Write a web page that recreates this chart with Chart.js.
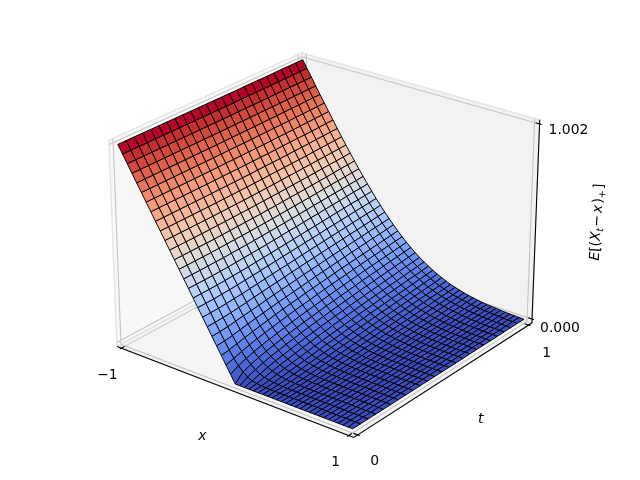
<!DOCTYPE html>
<html>
<head>
<meta charset="utf-8">
<title>E[(X_t - x)+] surface</title>
<style>
html, body { margin: 0; background: #fff; }
canvas { display: block; }
</style>
<script src="https://cdn.jsdelivr.net/npm/chart.js@4"></script>
</head>
<body>
<canvas id="surfaceChart" width="640" height="480"></canvas>
<script>
// grid
const xValues = [-1,-.96,-.92,-.88,-.84,-.8,-.76,-.72,-.68,-.64,-.6,-.56,-.52,-.48,-.44,-.4,-.36,-.32,-.28,-.24,-.2,-.16,-.12,-.08,-.04,0,.04,.08,.12,.16,.2,.24,.28,.32,.36,.4,.44,.48,.52,.56,.6,.64,.68,.72,.76,.8,.84,.88,.92,.96,1];
const tValues = [0,.0417,.0833,.125,.1667,.2083,.25,.2917,.3333,.375,.4167,.4583,.5,.5417,.5833,.625,.6667,.7083,.75,.7917,.8333,.875,.9167,.9583,1];
// one row per t, one value per x
const zRows = [
[1,.96,.92,.88,.84,.8,.76,.72,.68,.64,.6,.56,.52,.48,.44,.4,.36,.32,.28,.24,.2,.16,.12,.08,.04,0,0,0,0,0,0,0,0,0,0,0,0,0,0,0,0,0,0,0,0,0,0,0,0,0,0],
[1,.96,.92,.88,.84,.8,.76,.72,.68,.64,.6,.56,.52,.48,.44,.4,.36,.32,.28,.24,.201,.162,.125,.09,.061,.038,.021,.01,.005,.002,.001,0,0,0,0,0,0,0,0,0,0,0,0,0,0,0,0,0,0,0,0],
[1,.96,.92,.88,.84,.8,.76,.72,.68,.64,.6,.56,.52,.48,.44,.4,.36,.32,.281,.242,.204,.167,.133,.102,.075,.053,.035,.022,.013,.007,.004,.002,.001,0,0,0,0,0,0,0,0,0,0,0,0,0,0,0,0,0,0],
[1,.96,.92,.88,.84,.8,.76,.72,.68,.64,.6,.56,.52,.48,.44,.4,.361,.322,.283,.245,.209,.174,.142,.113,.087,.065,.047,.033,.022,.014,.009,.005,.003,.002,.001,0,0,0,0,0,0,0,0,0,0,0,0,0,0,0,0],
[1,.96,.92,.88,.84,.8,.76,.72,.68,.64,.6,.56,.52,.48,.441,.401,.362,.323,.286,.249,.214,.181,.15,.122,.097,.075,.057,.042,.03,.021,.014,.009,.006,.003,.002,.001,.001,0,0,0,0,0,0,0,0,0,0,0,0,0,0],
[1,.96,.92,.88,.84,.8,.76,.72,.68,.64,.6,.56,.52,.481,.441,.402,.364,.326,.289,.253,.219,.187,.157,.13,.105,.084,.065,.05,.037,.027,.019,.013,.009,.006,.004,.002,.001,.001,0,0,0,0,0,0,0,0,0,0,0,0,0],
[1,.96,.92,.88,.84,.8,.76,.72,.68,.64,.6,.561,.521,.482,.443,.404,.366,.329,.293,.258,.224,.193,.164,.137,.113,.092,.073,.057,.044,.033,.024,.018,.013,.009,.006,.004,.003,.002,.001,.001,0,0,0,0,0,0,0,0,0,0,0],
[1,.96,.92,.88,.84,.8,.76,.72,.68,.64,.601,.561,.522,.483,.444,.406,.368,.332,.296,.262,.23,.199,.171,.144,.12,.099,.08,.064,.051,.039,.03,.022,.016,.012,.008,.006,.004,.003,.002,.001,.001,0,0,0,0,0,0,0,0,0,0],
[1,.96,.92,.88,.84,.8,.76,.72,.681,.641,.601,.562,.523,.484,.445,.408,.371,.335,.3,.267,.235,.205,.177,.151,.127,.106,.087,.071,.057,.045,.035,.027,.02,.015,.011,.008,.005,.004,.003,.002,.001,.001,.001,0,0,0,0,0,0,0,0],
[1,.96,.92,.88,.84,.8,.76,.721,.681,.641,.602,.563,.524,.485,.447,.41,.374,.338,.304,.271,.24,.21,.183,.157,.134,.112,.094,.077,.063,.05,.04,.031,.024,.018,.014,.01,.007,.005,.004,.003,.002,.001,.001,.001,0,0,0,0,0,0,0],
[1,.96,.92,.88,.84,.8,.761,.721,.681,.642,.602,.563,.525,.487,.449,.412,.376,.341,.308,.275,.244,.215,.188,.163,.14,.118,.1,.083,.068,.055,.044,.035,.028,.021,.016,.012,.009,.007,.005,.003,.002,.002,.001,.001,.001,0,0,0,0,0,0],
[1,.96,.92,.88,.84,.801,.761,.721,.682,.642,.603,.565,.526,.488,.451,.415,.379,.345,.311,.28,.249,.22,.194,.168,.145,.124,.105,.088,.074,.06,.049,.04,.031,.025,.019,.015,.011,.008,.006,.005,.003,.002,.002,.001,.001,.001,0,0,0,0,0],
[1,.96,.92,.88,.841,.801,.761,.722,.682,.643,.604,.566,.528,.49,.453,.417,.382,.348,.315,.284,.254,.225,.199,.174,.151,.13,.111,.094,.079,.065,.054,.044,.035,.028,.022,.017,.013,.01,.008,.006,.004,.003,.002,.002,.001,.001,.001,0,0,0,0],
[1,.96,.92,.881,.841,.801,.762,.722,.683,.644,.605,.567,.529,.492,.455,.42,.385,.351,.319,.288,.258,.23,.204,.179,.156,.135,.116,.099,.084,.07,.058,.048,.039,.031,.025,.02,.015,.012,.009,.007,.005,.004,.003,.002,.002,.001,.001,.001,0,0,0],
[1,.96,.921,.881,.841,.801,.762,.723,.684,.645,.606,.568,.531,.494,.458,.422,.388,.355,.323,.292,.262,.235,.208,.184,.161,.14,.121,.104,.088,.075,.062,.052,.043,.035,.028,.022,.018,.014,.011,.008,.006,.005,.004,.003,.002,.001,.001,.001,.001,0,0],
[1,.961,.921,.881,.841,.802,.762,.723,.684,.646,.608,.57,.533,.496,.46,.425,.391,.358,.326,.296,.267,.239,.213,.189,.166,.145,.126,.109,.093,.079,.067,.056,.046,.038,.031,.025,.02,.016,.013,.01,.008,.006,.004,.003,.002,.002,.001,.001,.001,.001,0],
[1.001,.961,.921,.881,.842,.802,.763,.724,.685,.647,.609,.571,.534,.498,.462,.428,.394,.361,.33,.3,.271,.243,.218,.193,.171,.15,.131,.113,.098,.083,.071,.06,.05,.041,.034,.028,.022,.018,.014,.011,.009,.007,.005,.004,.003,.002,.002,.001,.001,.001,.001],
[1.001,.961,.921,.882,.842,.803,.764,.725,.686,.648,.61,.573,.536,.5,.465,.43,.397,.365,.333,.303,.275,.248,.222,.198,.175,.155,.135,.118,.102,.088,.075,.063,.053,.045,.037,.03,.025,.02,.016,.013,.01,.008,.006,.005,.004,.003,.002,.002,.001,.001,.001],
[1.001,.961,.921,.882,.843,.803,.764,.726,.687,.649,.612,.574,.538,.502,.467,.433,.4,.368,.337,.307,.279,.252,.226,.202,.18,.159,.14,.122,.106,.092,.079,.067,.057,.048,.04,.033,.027,.022,.018,.014,.012,.009,.007,.006,.004,.003,.003,.002,.001,.001,.001],
[1.001,.961,.922,.882,.843,.804,.765,.727,.688,.65,.613,.576,.54,.504,.47,.436,.403,.371,.34,.311,.282,.256,.23,.207,.184,.163,.144,.127,.11,.096,.082,.071,.06,.051,.043,.036,.03,.024,.02,.016,.013,.01,.008,.007,.005,.004,.003,.002,.002,.001,.001],
[1.001,.962,.922,.883,.844,.805,.766,.727,.689,.652,.615,.578,.542,.507,.472,.438,.406,.374,.344,.314,.286,.26,.234,.211,.188,.168,.148,.131,.114,.1,.086,.074,.064,.054,.046,.038,.032,.027,.022,.018,.015,.012,.009,.007,.006,.005,.004,.003,.002,.002,.001],
[1.002,.962,.923,.883,.844,.805,.767,.728,.691,.653,.616,.58,.544,.509,.474,.441,.409,.377,.347,.318,.29,.264,.238,.215,.192,.172,.152,.135,.118,.104,.09,.078,.067,.057,.049,.041,.034,.029,.024,.02,.016,.013,.011,.008,.007,.005,.004,.003,.003,.002,.002],
[1.002,.962,.923,.884,.845,.806,.768,.729,.692,.654,.618,.581,.546,.511,.477,.444,.411,.38,.351,.321,.294,.267,.242,.219,.196,.176,.156,.139,.122,.107,.094,.081,.07,.06,.051,.044,.037,.031,.026,.021,.018,.014,.012,.009,.008,.006,.005,.004,.003,.002,.002],
[1.002,.963,.923,.884,.846,.807,.769,.731,.693,.656,.619,.583,.548,.513,.479,.446,.414,.383,.353,.325,.297,.271,.246,.223,.2,.18,.16,.143,.126,.111,.097,.085,.073,.063,.054,.046,.039,.033,.028,.023,.019,.016,.013,.011,.009,.007,.006,.004,.003,.003,.002],
[1.002,.963,.924,.885,.846,.808,.77,.732,.694,.657,.621,.585,.55,.515,.482,.449,.417,.386,.357,.328,.301,.275,.25,.226,.204,.184,.164,.146,.13,.115,.101,.088,.077,.066,.057,.049,.042,.035,.03,.025,.021,.017,.014,.012,.01,.008,.006,.005,.004,.003,.002]
];
const xTicks = [-1, 1];
const tTicks = [0, 1];
const zTicks = [0, 1.002];
const xTickLabels = ['\u22121', '1'];
const tTickLabels = ['0', '1'];
const zTickLabels = ['0.000', '1.002'];
// coolwarm colour map stops
const coolwarm = [[59,76,192],[68,90,204],[77,104,215],[87,117,225],[98,130,234],[108,142,241],[119,154,247],[130,165,251],[141,176,254],[152,185,255],[163,194,255],[174,201,253],[184,208,249],[194,213,244],[204,217,238],[213,219,230],[221,221,221],[229,216,209],[236,211,197],[241,204,185],[245,196,173],[247,187,160],[247,177,148],[247,166,135],[244,154,123],[241,141,111],[236,127,99],[229,112,88],[222,96,77],[213,80,66],[203,62,56],[192,40,47],[180,4,38]];

// view settings
const elev = 25 * Math.PI / 180;
const azim = -52 * Math.PI / 180;
const dist = 10;
const boxScale = 1.8294640721620434 / Math.sqrt(41);
const box = [4 * boxScale, 4 * boxScale, 3 * boxScale];
const xLim = [-1, 1], tLim = [0, 1], zLim = [0, 1.002];
// the panes stick out past the limits by 1/48 of the range
const xPane = [xLim[0] - 2 / 48, xLim[1] + 2 / 48];
const tPane = [tLim[0] - 1 / 48, tLim[1] + 1 / 48];
const zPane = [zLim[0] - 1.002 / 48, zLim[1] + 1.002 / 48];

const w = [Math.cos(elev) * Math.cos(azim), Math.cos(elev) * Math.sin(azim), Math.sin(elev)];
const uLen = Math.hypot(w[1], w[0]);
const u = [-w[1] / uLen, w[0] / uLen, 0];
const v = [w[1] * u[2] - w[2] * u[1], w[2] * u[0] - w[0] * u[2], w[0] * u[1] - w[1] * u[0]];

function project(x, t, z) {
    const p = [
        (x - xLim[0]) / (xLim[1] - xLim[0]) * box[0] - box[0] / 2,
        (t - tLim[0]) / (tLim[1] - tLim[0]) * box[1] - box[1] / 2,
        (z - zLim[0]) / (zLim[1] - zLim[0]) * box[2] - box[2] / 2
    ];
    const vx = p[0] * u[0] + p[1] * u[1] + p[2] * u[2];
    const vy = p[0] * v[0] + p[1] * v[1] + p[2] * v[2];
    const vz = p[0] * w[0] + p[1] * w[1] + p[2] * w[2] - dist;
    return { x: vx / -vz, y: vy / -vz, depth: -vz };
}

function lineSet(points, color, width) {
    return {
        data: points.map(p => ({ x: p.x, y: p.y })),
        showLine: true,
        borderColor: color,
        borderWidth: width,
        pointRadius: 0,
        fill: false,
        clip: false,
        tension: 0
    };
}

function polySet(points, fillColor, edgeColor, width) {
    const closed = points.concat([points[0]]);
    return {
        data: closed.map(p => ({ x: p.x, y: p.y })),
        showLine: true,
        backgroundColor: fillColor,
        borderColor: edgeColor,
        borderWidth: width,
        pointRadius: 0,
        fill: 'shape',
        clip: false,
        tension: 0
    };
}

function colorFor(f) {
    const pos = Math.min(Math.max(f, 0), 1) * (coolwarm.length - 1);
    const i = Math.min(Math.floor(pos), coolwarm.length - 2);
    const a = pos - i;
    const c = coolwarm[i].map((ch, k) => Math.round(ch + (coolwarm[i + 1][k] - ch) * a));
    return `rgb(${c[0]},${c[1]},${c[2]})`;
}

function buildFrame() {
    const sets = [];
    const [x0, x1] = xPane, [t0, t1] = tPane, [z0, z1] = zPane;
    const paneEdge = 'rgba(226,226,226,0.9)';
    // panes
    sets.push(polySet([project(x0, t0, z0), project(x0, t1, z0), project(x0, t1, z1), project(x0, t0, z1)], 'rgba(242,242,242,0.5)', paneEdge, 1.4));
    sets.push(polySet([project(x0, t1, z0), project(x1, t1, z0), project(x1, t1, z1), project(x0, t1, z1)], 'rgba(230,230,230,0.5)', paneEdge, 1.4));
    sets.push(polySet([project(x0, t0, z0), project(x1, t0, z0), project(x1, t1, z0), project(x0, t1, z0)], 'rgba(236,236,236,0.5)', paneEdge, 1.4));
    // grid
    const gridColor = '#c4c4c4';
    xTicks.forEach(val => sets.push(lineSet([project(val, t0, z0), project(val, t1, z0), project(val, t1, z1)], gridColor, 1.1)));
    tTicks.forEach(val => sets.push(lineSet([project(x1, val, z0), project(x0, val, z0), project(x0, val, z1)], gridColor, 1.1)));
    zTicks.forEach(val => sets.push(lineSet([project(x0, t0, val), project(x0, t1, val), project(x1, t1, val)], gridColor, 1.1)));
    // axis lines
    sets.push(lineSet([project(x0, t0, z0), project(x1, t0, z0)], '#000', 1.1));
    sets.push(lineSet([project(x1, t0, z0), project(x1, t1, z0)], '#000', 1.1));
    sets.push(lineSet([project(x1, t1, z0), project(x1, t1, z1)], '#000', 1.1));
    // tick marks, sized from the range as matplotlib does it
    const dx = (xLim[1] - xLim[0]) / 12, dt = (tLim[1] - tLim[0]) / 12;
    xTicks.forEach(val => sets.push(lineSet([project(val, t0 - 0.1 * dt, z0), project(val, t0 + 0.2 * dt, z0)], '#000', 1.1)));
    tTicks.forEach(val => sets.push(lineSet([project(x1 + 0.1 * dx, val, z0), project(x1 - 0.2 * dx, val, z0)], '#000', 1.1)));
    zTicks.forEach(val => sets.push(lineSet([project(x1 + 0.1 * dx, t1, val), project(x1 - 0.2 * dx, t1, val)], '#000', 1.1)));
    return sets;
}

function buildSurface() {
    const cells = [];
    for (let j = 0; j < tValues.length - 1; j++) {
        for (let i = 0; i < xValues.length - 1; i++) {
            const corners = [[i, j], [i + 1, j], [i + 1, j + 1], [i, j + 1]];
            const pts = corners.map(c => project(xValues[c[0]], tValues[c[1]], zRows[c[1]][c[0]]));
            const mean = corners.reduce((s, c) => s + zRows[c[1]][c[0]], 0) / 4;
            const depth = pts.reduce((s, p) => s + p.depth, 0) / 4;
            cells.push({ pts, mean, depth });
        }
    }
    const lo = Math.min(...cells.map(c => c.mean));
    const hi = Math.max(...cells.map(c => c.mean));
    cells.sort((a, b) => b.depth - a.depth);
    return cells.map(c => polySet(c.pts, colorFor((c.mean - lo) / (hi - lo)), '#000', 0.95));
}

// draw the mixed roman/italic label piece by piece along the z axis
function drawZLabel(ctx, cx, cy, angle) {
    const big = 13.9, small = 9.7;
    const parts = [
        ['E', 'italic', big, 0, 0], ['[', '', big, 0, 0], ['(', '', big, 0, 0],
        ['X', 'italic', big, 0, 0], ['t', 'italic', small, 2.5, 1],
        ['\u2212', '', big, 0, 2], ['x', 'italic', big, 0, 1.5],
        [')', '', big, 0, 0], ['+', '', small, 2.5, 1]
    ];
    let total = 0;
    parts.forEach(p => {
        ctx.font = `${p[1]} ${p[2]}px "DejaVu Sans"`;
        p.push(ctx.measureText(p[0]).width);
        total += p[5] + p[4];
    });
    ctx.font = `${big}px "DejaVu Sans"`;
    total += ctx.measureText(']').width;
    ctx.save();
    ctx.translate(cx, cy);
    ctx.rotate(angle);
    let pos = -total / 2;
    ctx.textAlign = 'left';
    ctx.textBaseline = 'alphabetic';
    parts.forEach(p => {
        ctx.font = `${p[1]} ${p[2]}px "DejaVu Sans"`;
        ctx.fillText(p[0], pos, 5 + p[3]);
        pos += p[5] + p[4];
    });
    ctx.font = `${big}px "DejaVu Sans"`;
    ctx.fillText(']', pos, 5);
    ctx.restore();
}

const textPlugin = {
    id: 'axisText',
    afterDraw(chart) {
        const ctx = chart.ctx;
        const sx = chart.scales.x, sy = chart.scales.y;
        const put = (text, p, nudgeX, nudgeY, font) => {
            ctx.font = font;
            ctx.fillText(text, sx.getPixelForValue(p.x) + nudgeX, sy.getPixelForValue(p.y) + nudgeY);
        };
        const tickFont = '13.9px "DejaVu Sans"';
        const nameFont = 'italic 13.9px "DejaVu Sans"';
        ctx.save();
        ctx.fillStyle = '#000';
        ctx.textAlign = 'center';
        ctx.textBaseline = 'middle';
        xTicks.forEach((val, i) => put(xTickLabels[i], project(val, tPane[0], zPane[0]), i ? -13 : -14, i ? 27 : 27, tickFont));
        tTicks.forEach((val, i) => put(tTickLabels[i], project(xPane[1], val, zPane[0]), i ? 18 : 17, i ? 28 : 26, tickFont));
        ctx.textAlign = 'left';
        zTicks.forEach((val, i) => put(zTickLabels[i], project(xPane[1], tPane[1], val), i ? 9 : 8, i ? 6 : 9, tickFont));
        ctx.textAlign = 'center';
        put('x', project(0, tPane[0], zPane[0]), -29, 46, nameFont);
        put('t', project(xPane[1], 0.5, zPane[0]), 34, 42, nameFont);
        ctx.restore();
        ctx.fillStyle = '#000';
        drawZLabel(ctx, 596, 222, -86.6 * Math.PI / 180);
    }
};

// axes rectangle in the figure, fitted to the frame in the picture
const viewLo = -0.95 / dist, viewHi = 0.9 / dist;
const axesSize = 468;
const pxPerUnit = axesSize / (viewHi - viewLo);
const axesLeft = 86, axesTop = 6.5;

// first in the list ends up on top, so hand them over back to front reversed
const datasets = buildFrame().concat(buildSurface()).reverse();

new Chart(document.getElementById('surfaceChart'), {
    type: 'scatter',
    data: { datasets: datasets },
    options: {
        responsive: false,
        animation: false,
        events: [],
        layout: { padding: 0 },
        plugins: { legend: { display: false }, tooltip: { enabled: false } },
        scales: {
            x: {
                type: 'linear', display: false,
                min: viewLo - axesLeft / pxPerUnit,
                max: viewLo + (640 - axesLeft) / pxPerUnit
            },
            y: {
                type: 'linear', display: false,
                min: viewHi - (480 - axesTop) / pxPerUnit,
                max: viewHi + axesTop / pxPerUnit
            }
        }
    },
    plugins: [textPlugin]
});
</script>
</body>
</html>
